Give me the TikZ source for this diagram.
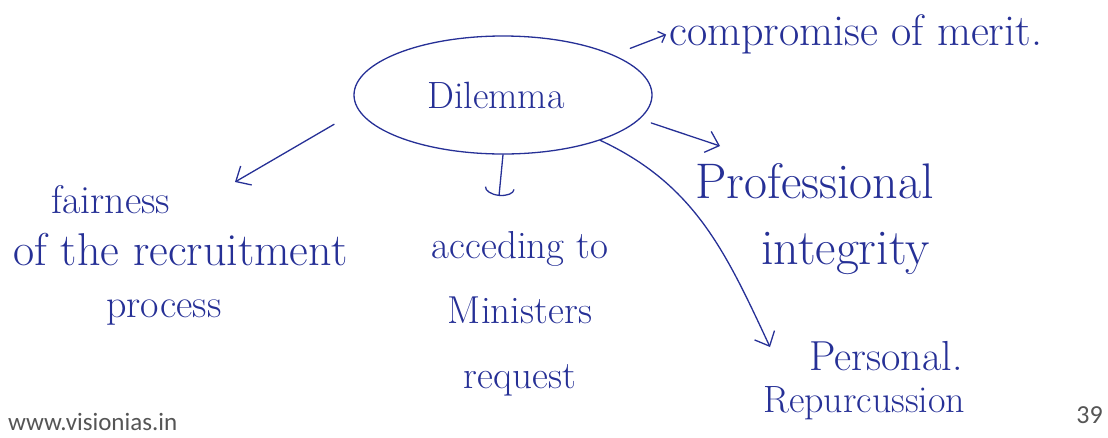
\documentclass[tikz,border=0pt]{standalone}
\usepackage{fontspec}
\newfontfamily\footfont{Carlito}
\usetikzlibrary{shapes.geometric,arrows.meta}
\definecolor{ink}{RGB}{38,48,150}
\definecolor{printgray}{RGB}{85,85,85}

\begin{document}
\begin{tikzpicture}[x=1pt,y=1pt]
\tikzset{bubble/.style = {shape=ellipse, draw=ink, line width=1.3pt, minimum width=298pt, minimum height=118pt, inner sep=0pt, text=ink, font=\fontsize{38}{44}\selectfont}}
\tikzset{note/.style = {text=ink, inner sep=1pt}}
\tikzset{link/.style = {draw=ink, line width=1.3pt, line cap=round}}
\tikzset{barb/.style = {-{Straight Barb[length=12pt,width=22pt]}}}
\tikzset{print/.style = {text=printgray, inner sep=0pt}}
% page frame
\useasboundingbox (0,0) rectangle (1108,-437);

% the centre and the branches
\node[bubble] (dilemma) at (503,-95) {Dilemma\hspace*{14pt}};
\node[note, anchor=base west, font=\fontsize{44}{50}\selectfont] (merit) at (668,-45) {compromise of merit.};
\node[note, anchor=north west, align=left, font=\fontsize{50}{66}\selectfont] (prof) at (694,-162) {Professional\\\hspace*{66pt}integrity};
\node[note, anchor=north west, align=left, font=\fontsize{40}{52}\selectfont] (fair) at (12,-184) {\hspace*{38pt}fairness\\{\fontsize{46}{52}\selectfont of the recruitment}\\\hspace*{93pt}process};
\node[note, anchor=north, align=center, font=\fontsize{39}{65}\selectfont] (acc) at (520,-230) {acceding to\\Ministers\\request};
\node[note, anchor=north west, align=left, font=\fontsize{38}{42}\selectfont] (pers) at (762,-340) {\hspace*{46pt}{\fontsize{42}{42}\selectfont Personal.}\\Repurcussion};

% arrow tips
\coordinate (fairtip) at (235,-182);
\coordinate (acctip) at (499,-196);
\coordinate (proftip) at (720,-146);
\coordinate (perstip) at (770,-347);

\draw[link, -{Straight Barb[length=6pt,width=12pt]}, shorten <=18pt, shorten >=2pt] (dilemma.20) -- (merit.west);
\draw[link, barb, shorten <=28pt] (dilemma.186) -- (fairtip);
\draw[link, -{Arc Barb[length=8pt,width=30pt]}] (dilemma.south) -- (acctip);
\draw[link, barb, shorten <=12pt] (dilemma.-10) -- (proftip);
\draw[link, barb] (dilemma.-25) to[out=-25, in=115] (perstip);

% print on the page
\node[print, anchor=base west, font=\footfont\fontsize{25}{28}\selectfont] (site) at (8,-430) {www.visionias.in};
\node[print, anchor=base east, font=\footfont\fontsize{26}{28}\selectfont] (page) at (1103,-423) {39};
\end{tikzpicture}
\end{document}
